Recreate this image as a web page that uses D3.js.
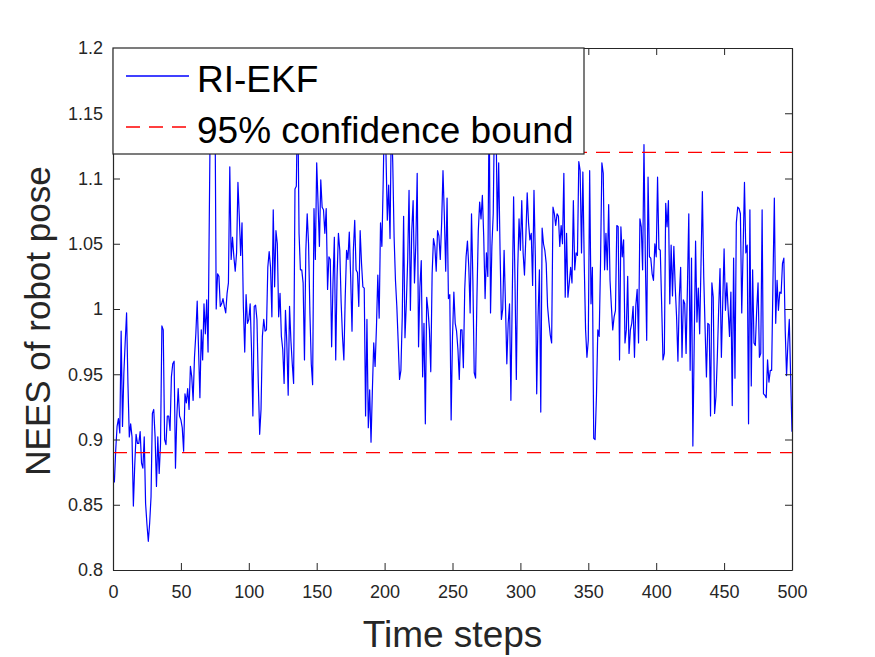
<!DOCTYPE html>
<html>
<head>
<meta charset="utf-8">
<script src="https://cdn.jsdelivr.net/npm/d3@7/dist/d3.min.js"></script>
<style>
    body { margin: 0; background: #fff; }
    text { font-family: "Liberation Sans", Arial, Helvetica, sans-serif; fill: #262626; }
</style>
</head>
<body>
<div class="vis-nees"></div>
<script>
// NEES of the robot pose, one value per time step (1..500)
const nees = [
    0.867, 0.892, 0.910, 0.916, 0.905, 0.983, 0.910, 0.951, 0.975, 0.997,
    0.943, 0.902, 0.912, 0.902, 0.849, 0.880, 0.904, 0.897, 0.897, 0.906,
    0.882, 0.878, 0.902, 0.851, 0.835, 0.822, 0.836, 0.856, 0.920, 0.923,
    0.902, 0.864, 0.902, 0.874, 0.897, 0.987, 0.984, 0.900, 0.896, 0.918,
    0.918, 0.907, 0.948, 0.958, 0.960, 0.878, 0.918, 0.939, 0.918, 0.915,
    0.909, 0.891, 0.935, 0.928, 0.939, 0.923, 0.956, 0.948, 0.930, 0.963,
    0.981, 1.006, 0.969, 0.932, 0.984, 0.961, 1.004, 0.981, 1.007, 0.967,
    1.080, 1.190, 1.210, 1.170, 1.180, 1.000, 1.027, 1.025, 1.002, 1.004,
    1.008, 1.002, 0.997, 1.012, 1.020, 1.109, 1.038, 1.055, 1.040, 1.029,
    1.043, 1.097, 1.071, 1.041, 1.066, 1.002, 0.967, 1.011, 0.989, 0.992,
    1.004, 0.969, 0.918, 1.002, 1.003, 0.992, 0.943, 0.904, 0.923, 0.979,
    0.992, 0.983, 0.984, 1.032, 1.044, 1.032, 0.994, 1.076, 1.017, 1.060,
    1.050, 0.994, 1.012, 0.979, 0.969, 0.943, 0.999, 0.974, 0.934, 1.002,
    0.976, 0.958, 0.943, 1.092, 1.094, 1.170, 1.058, 1.030, 1.030, 1.020,
    0.961, 1.045, 1.073, 1.050, 0.997, 0.958, 0.942, 1.077, 1.038, 1.112,
    1.081, 1.048, 1.099, 1.078, 1.076, 1.058, 1.077, 1.015, 1.040, 1.038,
    0.971, 1.020, 1.055, 0.961, 1.025, 1.058, 1.045, 1.005, 0.979, 0.961,
    1.009, 1.045, 1.038, 1.059, 1.025, 0.983, 1.045, 1.068, 1.030, 1.028,
    1.002, 1.060, 1.035, 1.017, 1.016, 0.918, 0.992, 0.909, 0.938, 0.898,
    0.938, 0.974, 0.956, 0.986, 1.026, 0.993, 1.066, 1.048, 1.099, 1.160,
    1.120, 1.068, 1.095, 1.054, 1.150, 1.112, 1.055, 1.022, 1.002, 0.975,
    0.946, 0.953, 0.994, 1.071, 0.978, 1.004, 1.038, 1.091, 0.999, 1.060,
    1.083, 1.020, 1.050, 1.104, 0.971, 1.017, 1.037, 0.948, 0.989, 0.912,
    1.009, 0.999, 0.984, 0.952, 1.027, 1.054, 1.048, 1.029, 1.060, 1.056,
    1.038, 1.066, 1.106, 1.071, 1.029, 1.085, 1.008, 1.011, 0.915, 0.979,
    1.013, 0.989, 0.983, 0.969, 0.946, 0.984, 0.984, 0.955, 1.015, 1.040,
    1.052, 1.032, 0.997, 1.073, 1.022, 0.951, 0.947, 1.009, 1.060, 1.082,
    1.069, 1.087, 1.055, 1.008, 1.043, 1.025, 1.160, 0.997, 1.048, 1.073,
    1.160, 1.150, 1.060, 1.112, 1.046, 0.992, 1.000, 1.045, 1.004, 0.958,
    0.989, 1.004, 0.930, 1.009, 1.086, 1.022, 0.946, 1.030, 1.069, 1.045,
    1.083, 1.043, 1.026, 1.055, 1.089, 1.066, 1.053, 1.058, 1.018, 1.091,
    1.040, 0.935, 0.994, 1.030, 0.921, 1.062, 1.050, 1.045, 1.035, 1.002,
    0.990, 0.980, 0.974, 1.078, 1.073, 1.064, 1.073, 1.071, 1.048, 1.064,
    1.050, 1.104, 1.009, 1.058, 1.009, 1.020, 1.032, 1.020, 1.083, 1.030,
    1.043, 1.041, 1.113, 1.106, 1.043, 1.105, 1.035, 0.984, 0.963, 0.976,
    1.106, 1.004, 1.032, 0.901, 0.900, 0.933, 0.984, 0.979, 1.035, 1.112,
    1.104, 1.030, 1.058, 1.030, 1.080, 1.022, 1.002, 0.984, 0.994, 0.999,
    1.064, 1.063, 0.961, 1.063, 1.040, 1.053, 0.974, 0.984, 1.025, 0.966,
    0.984, 0.989, 1.002, 0.963, 1.003, 1.015, 0.974, 1.069, 1.063, 1.030,
    1.126, 1.038, 0.976, 1.101, 1.040, 1.039, 1.027, 1.022, 1.050, 1.040,
    1.101, 1.046, 1.045, 1.004, 0.961, 0.966, 1.081, 1.063, 1.083, 1.004,
    1.049, 1.010, 1.048, 1.017, 0.994, 0.960, 1.009, 1.032, 0.963, 1.007,
    1.004, 0.966, 1.017, 1.073, 0.953, 1.039, 0.895, 0.975, 1.052, 0.990,
    1.016, 0.981, 1.035, 1.090, 1.025, 0.985, 0.948, 0.989, 0.988, 0.918,
    1.020, 1.009, 0.920, 0.933, 0.963, 1.000, 1.031, 0.963, 1.005, 1.046,
    0.999, 1.020, 0.999, 0.979, 1.013, 0.926, 1.039, 0.947, 1.066, 1.078,
    1.077, 1.073, 0.997, 1.045, 1.097, 1.043, 1.049, 0.912, 1.076, 0.941,
    1.030, 0.974, 0.972, 0.999, 1.020, 0.963, 0.966, 1.076, 0.935, 0.934,
    0.932, 0.961, 0.944, 0.953, 0.953, 1.022, 1.085, 0.989, 1.022, 0.999,
    1.013, 1.012, 1.035, 1.039, 0.984, 0.949, 0.974, 0.992, 0.948, 0.906
];

// 95% confidence bounds
const bounds = [0.89, 1.12];

const xTicks = [0, 50, 100, 150, 200, 250, 300, 350, 400, 450, 500];
const yTicks = [0.8, 0.85, 0.9, 0.95, 1, 1.05, 1.1, 1.15, 1.2];
const legendLabels = ['RI-EKF', '95% confidence bound'];


const draw = (outerWidth, outerHeight) => {

    const margin = {top: 48, right: 83, bottom: 87, left: 113};
    const width = outerWidth - margin.left - margin.right;
    const height = outerHeight - margin.top - margin.bottom;
    const axisColor = '#262626';
    const tick = 7;

    const data = nees.map((v, i) => ({step: i + 1, value: v}));

    let svg = d3.select('.vis-nees')
        .append('svg')
        .attr('width', outerWidth)
        .attr('height', outerHeight)
        .style('background', '#fff');

    let g = svg.append('g')
        .attr('transform', 'translate(' + margin.left + ',' + margin.top + ')');

    let x = d3.scaleLinear().domain([0, 500]).range([0, width]);
    let y = d3.scaleLinear().domain([0.8, 1.2]).range([height, 0]);

    g.append('clipPath')
        .attr('id', 'plot-clip')
        .append('rect')
        .attr('width', width)
        .attr('height', height);

    // series
    let line = d3.line()
        .x(d => x(d.step))
        .y(d => y(d.value));

    g.append('path')
        .datum(data)
        .attr('clip-path', 'url(#plot-clip)')
        .attr('fill', 'none')
        .attr('stroke', '#0000ff')
        .attr('stroke-width', 1.2)
        .attr('stroke-linejoin', 'round')
        .attr('d', line);

    g.selectAll('.bound')
        .data(bounds)
        .enter().append('line')
        .attr('class', 'bound')
        .attr('x1', x(0))
        .attr('x2', x(500))
        .attr('y1', d => y(d))
        .attr('y2', d => y(d))
        .attr('stroke', '#ff0000')
        .attr('stroke-width', 1.3)
        .attr('stroke-dasharray', '14,9');

    // axes, ticks pointing inward on all four sides
    const fmt = d3.format('~g');

    const styleAxis = sel => {
        sel.selectAll('.domain').attr('stroke', axisColor).attr('stroke-width', 1.2);
        sel.selectAll('.tick line').attr('stroke', axisColor).attr('stroke-width', 1);
        sel.selectAll('.tick text')
            .style('font-size', '18px')
            .attr('fill', axisColor);
    };

    g.append('g')
        .attr('transform', 'translate(0,' + height + ')')
        .call(d3.axisBottom(x).tickValues(xTicks).tickFormat(fmt)
            .tickSizeInner(-tick).tickSizeOuter(0).tickPadding(15))
        .call(styleAxis);

    g.append('g')
        .call(d3.axisTop(x).tickValues(xTicks).tickFormat('')
            .tickSizeInner(-tick).tickSizeOuter(0))
        .call(styleAxis);

    g.append('g')
        .call(d3.axisLeft(y).tickValues(yTicks).tickFormat(fmt)
            .tickSizeInner(-tick).tickSizeOuter(0).tickPadding(10))
        .call(styleAxis);

    g.append('g')
        .attr('transform', 'translate(' + width + ',0)')
        .call(d3.axisRight(y).tickValues(yTicks).tickFormat('')
            .tickSizeInner(-tick).tickSizeOuter(0))
        .call(styleAxis);

    g.selectAll('.domain').attr('fill', 'none');

    // axis labels
    g.append('text')
        .attr('x', width / 2)
        .attr('y', height + 77)
        .attr('text-anchor', 'middle')
        .style('font-size', '37px')
        .text('Time steps');

    g.append('text')
        .attr('transform', 'translate(' + (-63) + ',' + (height / 2 + 12) + ') rotate(-90)')
        .attr('text-anchor', 'middle')
        .style('font-size', '35px')
        .text('NEES of robot pose');

    // legend, top-left inside the axes
    let legend = g.append('g').attr('class', 'legend');

    legend.append('rect')
        .attr('width', 471)
        .attr('height', 106)
        .attr('fill', '#fff')
        .attr('stroke', axisColor)
        .attr('stroke-width', 1.2);

    let legendG = legend.selectAll('.legend-item')
        .data(legendLabels)
        .enter().append('g')
        .attr('class', 'legend-item')
        .attr('transform', (d, i) => 'translate(0,' + (28 + i * 51) + ')');

    legendG.append('line')
        .attr('x1', 13)
        .attr('x2', 76)
        .attr('stroke', (d, i) => i === 0 ? '#0000ff' : '#ff0000')
        .attr('stroke-width', 1.3)
        .attr('stroke-dasharray', (d, i) => i === 0 ? null : '14,9');

    legendG.append('text')
        .attr('x', 84)
        .attr('y', 16)
        .style('font-size', '37px')
        .style('fill', '#000')
        .text(d => d);
};

draw(875, 657);
</script>
</body>
</html>
